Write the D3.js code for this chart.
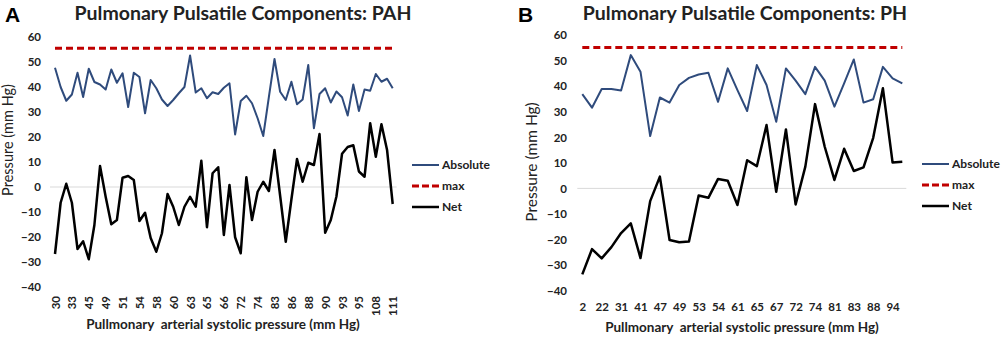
<!DOCTYPE html>
<html>
<head>
<meta charset="utf-8">
<script src="https://cdn.jsdelivr.net/npm/d3@7"></script>
<style>
  body { margin: 0; background: #fff; }
  svg { display: block; font-family: Lato, "Open Sans", sans-serif; }
</style>
</head>
<body>
<svg id="chart" width="1001" height="339"></svg>
<script>
// panel A (PAH)
const absoluteA = [47.7, 40, 34.5, 37, 45.7, 36, 47.3, 42, 41, 39,
  47, 41.7, 45.5, 32, 45.7, 44, 29.5, 42.8, 39.5, 35,
  32.4, 34.8, 37.5, 40, 52.6, 37.8, 39.5, 35.5, 37.9, 37.2,
  39.7, 41.5, 21, 34.4, 36.5, 33.5, 27.5, 20.4, 36, 51.2,
  38.1, 34.8, 42.1, 33.1, 35, 48.8, 23.5, 37.2, 39.5, 33.8,
  38.2, 35.9, 28.6, 41, 30.4, 39, 38.5, 45.2, 42.1, 43.3, 39.5];
const netA = [-26.8, -6.3, 1.3, -6.3, -24.8, -21.7, -28.9, -15.2, 8.4, -3.9,
  -14.9, -13.2, 3.7, 4.4, 2.8, -13.6, -10.3, -20.4, -25.9, -18.5,
  -2.8, -7.9, -15.2, -7.9, -3.9, -7.9, 10.5, -16.1, 5.5, 7.9,
  -19.2, 0.8, -20.1, -26.5, 3.9, -13.2, -1.9, 2.1, -1.6, 14.8,
  -3.5, -21.9, -5, 11.2, 2.1, 9.7, 8.8, 21.2, -18.3, -13.2,
  -3.8, 13.3, 16, 16.7, 6.2, 4.1, 25.5, 12.1, 25.1, 14.8, -6.8];
const maxA = 55.5;
const tickLabelsA = [30, 33, 45, 49, 51, 54, 58, 60, 63, 65, 66, 72, 74, 83, 86, 88, 90, 93, 95, 108, 111];

// panel B (PH)
const absoluteB = [36.9, 31.6, 38.9, 38.9, 38.3, 52.2, 45.7, 20.5, 35.6, 33.6,
  40.5, 43.3, 44.6, 45.3, 33.9, 47, 38.5, 30.3, 48.3, 40.5,
  26.1, 47, 42.2, 36.9, 47.6, 42.2, 32, 41.1, 50.5, 33.6,
  34.9, 47.6, 43.1, 41.1];
const netB = [-33.7, -23.8, -27.4, -23, -17.5, -13.7, -27.3, -5, 4.6, -20.2,
  -21.1, -20.8, -2.8, -3.7, 3.7, 3, -6.5, 11, 8.7, 24.8,
  -1.3, 23.1, -6.3, 8.5, 33, 16.3, 3.3, 15.5, 6.8, 8.2,
  19.8, 39.2, 10.1, 10.4];
const maxB = 55.2;
const tickLabelsB = [2, 22, 31, 41, 47, 49, 53, 54, 61, 65, 67, 72, 74, 81, 83, 88, 94];

const yTicks = [-40, -30, -20, -10, 0, 10, 20, 30, 40, 50, 60];
const seriesNames = ["Absolute", "max", "Net"];

const blue = "#2f4b7c";
const red = "#c00000";

const svg = d3.select("#chart");

function drawPanel(p){
    const g = svg.append("g");
    const n = p.absolute.length;

    const x = d3.scalePoint(d3.range(n), [p.x0, p.x1]);
    const y = d3.scaleLinear([-40, 60], [p.yBottom, p.yTop]);

    // panel letter + title
    g.append("text")
        .attr("x", p.letterX).attr("y", 22)
        .attr("font-family", "Liberation Sans, Arial, sans-serif")
        .attr("font-weight", "bold").attr("font-size", "21px")
        .text(p.letter);
    g.append("text")
        .attr("x", p.titleX).attr("y", 20)
        .attr("text-anchor", "middle")
        .attr("font-weight", "bold").attr("font-size", "19.5px")
        .attr("fill", "#222")
        .text(p.title);

    // y axis labels only (no axis line in the original)
    const yAxis = d3.axisLeft(y).tickValues(yTicks).tickSize(0).tickPadding(0);
    const yg = g.append("g")
        .attr("transform", `translate(${p.yLabelX},0)`)
        .call(yAxis);
    yg.select(".domain").remove();
    yg.selectAll("text")
        .attr("font-family", "Lato, sans-serif")
        .attr("font-weight", "bold").attr("font-size", "11.5px")
        .attr("fill", "#222");

    // zero line
    g.append("line")
        .attr("x1", p.x0 - 5).attr("x2", p.x1 + 4)
        .attr("y1", y(0)).attr("y2", y(0))
        .attr("stroke", "#d9d9d9").attr("stroke-width", 1);

    // x tick labels, every few categories
    const xAxis = d3.axisBottom(x)
        .tickValues(p.tickLabels.map((d, i) => i * p.tickEvery))
        .tickFormat((d) => p.tickLabels[d / p.tickEvery])
        .tickSize(0);
    const xg = g.append("g")
        .attr("transform", `translate(0,${p.xLabelY})`)
        .call(xAxis);
    xg.select(".domain").remove();
    const xt = xg.selectAll("text")
        .attr("font-family", "Lato, sans-serif")
        .attr("font-weight", "bold").attr("font-size", "11.5px")
        .attr("fill", "#222");
    if (p.rotate){
        xt.attr("transform", "rotate(-90)")
          .attr("text-anchor", "end")
          .attr("x", 0).attr("y", 0).attr("dx", 0).attr("dy", "0.35em");
    } else {
        xt.attr("dy", "0.35em").attr("y", 0);
    }

    // axis titles
    g.append("text")
        .attr("transform", `translate(${p.yTitleX},${p.yTitleY}) rotate(-90)`)
        .attr("text-anchor", "middle")
        .attr("font-size", p.yTitleSize).attr("fill", "#222")
        .text("Pressure (mm Hg)");
    g.append("text")
        .attr("x", p.xTitleX).attr("y", p.xTitleY)
        .attr("text-anchor", "middle")
        .attr("font-weight", "bold").attr("font-size", "13.5px")
        .attr("fill", "#222")
        .style("white-space", "pre")
        .text("Pullmonary  arterial systolic pressure (mm Hg)");

    const line = d3.line().x((d, i) => x(i)).y((d) => y(d));

    g.append("path")
        .datum(p.absolute)
        .attr("d", line)
        .attr("fill", "none").attr("stroke", blue)
        .attr("stroke-width", 2).attr("stroke-linejoin", "round");

    g.append("path")
        .datum(p.absolute.map(() => p.max))
        .attr("d", line)
        .attr("fill", "none").attr("stroke", red)
        .attr("stroke-width", 3).attr("stroke-dasharray", "7,4");

    g.append("path")
        .datum(p.net)
        .attr("d", line)
        .attr("fill", "none").attr("stroke", "#000")
        .attr("stroke-width", 2.5).attr("stroke-linejoin", "round");

    // legend
    const legend = g.append("g").attr("transform", `translate(${p.legendX},${p.legendY})`);
    const styles = [
        {stroke: blue, w: 2, dash: null},
        {stroke: red, w: 3, dash: "7,3"},
        {stroke: "#000", w: 2.5, dash: null}
    ];
    seriesNames.forEach((name, i) => {
        legend.append("line")
            .attr("x1", 0).attr("x2", 27)
            .attr("y1", i * 21).attr("y2", i * 21)
            .attr("stroke", styles[i].stroke)
            .attr("stroke-width", styles[i].w)
            .attr("stroke-dasharray", styles[i].dash);
        legend.append("text")
            .attr("x", 30).attr("y", i * 21)
            .attr("dy", "0.35em")
            .attr("font-weight", "bold").attr("font-size", "12px")
            .attr("fill", "#222")
            .text(name);
    });
}

drawPanel({
    letter: "A", letterX: 5,
    title: "Pulmonary Pulsatile Components: PAH", titleX: 243,
    absolute: absoluteA, net: netA, max: maxA,
    tickLabels: tickLabelsA, tickEvery: 3, rotate: true,
    x0: 55, x1: 392.7, yTop: 37, yBottom: 287,
    yLabelX: 41, xLabelY: 296,
    yTitleX: 13, yTitleY: 140, yTitleSize: "14.5px",
    xTitleX: 223, xTitleY: 329,
    legendX: 412, legendY: 165
});

drawPanel({
    letter: "B", letterX: 518,
    title: "Pulmonary Pulsatile Components: PH", titleX: 745,
    absolute: absoluteB, net: netB, max: maxB,
    tickLabels: tickLabelsB, tickEvery: 2, rotate: false,
    x0: 582.3, x1: 902.3, yTop: 35.2, yBottom: 290.5,
    yLabelX: 567, xLabelY: 307,
    yTitleX: 537, yTitleY: 162, yTitleSize: "15.5px",
    xTitleX: 742, xTitleY: 332,
    legendX: 922, legendY: 164
});
</script>
</body>
</html>
